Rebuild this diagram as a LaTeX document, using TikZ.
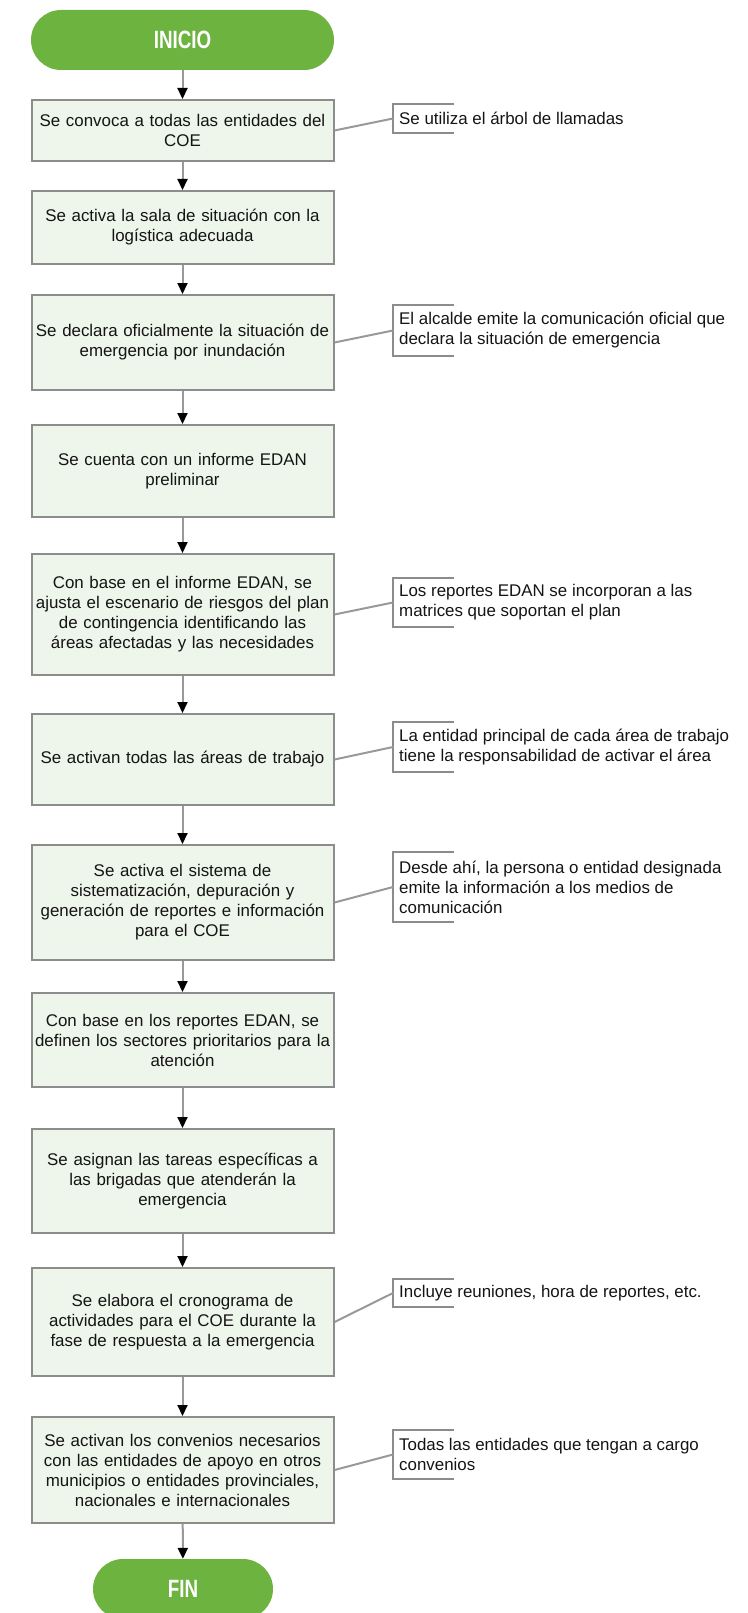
\documentclass[tikz,border=0pt]{standalone}
\usepackage{fontspec}
\setmainfont{Liberation Sans}
\newfontfamily\pillfont[FakeStretch=0.75]{Liberation Sans}
\usepackage{xcolor}
\usepackage{tikz}
\usetikzlibrary{arrows.meta}

\definecolor{pillgreen}{HTML}{6DB33F}
\definecolor{boxfill}{HTML}{EEF5EA}
\definecolor{boxline}{HTML}{8C8C8C}
\definecolor{linkgray}{HTML}{999999}

\begin{document}
\begin{tikzpicture}[
  x=1pt, y=-1pt,
  every node/.style={font=\fontsize{16.9}{20}\selectfont, text=black!92},
  term/.style={rectangle, rounded corners=30pt, fill=pillgreen, minimum height=60pt,
    text=white, font=\pillfont\bfseries\fontsize{25}{25}\selectfont},
  stepbox/.style={rectangle, draw=boxline, fill=boxfill, line width=2pt, text width=298pt,
    minimum width=302pt, align=center, inner sep=0pt},
  note/.style={anchor=west, align=left, inner xsep=6pt, inner ysep=0pt},
  flow/.style={draw=linkgray, line width=2pt, -{Triangle[width=10pt,length=11pt,color=black]}},
  link/.style={draw=linkgray, line width=2pt},
  brace/.style={draw=boxline, line width=2pt},
]
\useasboundingbox (0,0) rectangle (747,1613);
% terminals
\node[term, minimum width=303pt] (inicio) at (182.5,40) {INICIO};
\node[term, minimum width=180pt] (fin) at (183,1589) {FIN};
% steps
\node[stepbox, minimum height=61pt] (s1) at (182.5,130.5) {Se convoca a todas las entidades del\\COE};
\node[stepbox, minimum height=73pt] (s2) at (182.5,227.5) {Se activa la sala de situación con la\\logística adecuada};
\node[stepbox, minimum height=95pt] (s3) at (182.5,342.5) {Se declara oficialmente la situación de\\emergencia por inundación};
\node[stepbox, minimum height=92pt] (s4) at (182.5,471) {Se cuenta con un informe EDAN\\preliminar};
\node[stepbox, minimum height=121pt] (s5) at (182.5,614.5) {Con base en el informe EDAN, se\\ajusta el escenario de riesgos del plan\\de contingencia identificando las\\áreas afectadas y las necesidades};
\node[stepbox, minimum height=91pt] (s6) at (182.5,759.5) {Se activan todas las áreas de trabajo};
\node[stepbox, minimum height=115pt] (s7) at (182.5,902.5) {Se activa el sistema de\\sistematización, depuración y\\generación de reportes e información\\para el COE};
\node[stepbox, minimum height=94pt] (s8) at (182.5,1040) {Con base en los reportes EDAN, se\\definen los sectores prioritarios para la\\atención};
\node[stepbox, minimum height=104pt] (s9) at (182.5,1181) {Se asignan las tareas específicas a\\las brigadas que atenderán la\\emergencia};
\node[stepbox, minimum height=108pt] (s10) at (182.5,1322) {Se elabora el cronograma de\\actividades para el COE durante la\\fase de respuesta a la emergencia};
\node[stepbox, minimum height=106pt] (s11) at (182.5,1470) {Se activan los convenios necesarios\\con las entidades de apoyo en otros\\municipios o entidades provinciales,\\nacionales e internacionales};
% flow
\draw[flow] (inicio) -- (s1);
\draw[flow] (s1) -- (s2);
\draw[flow] (s2) -- (s3);
\draw[flow] (s3) -- (s4);
\draw[flow] (s4) -- (s5);
\draw[flow] (s5) -- (s6);
\draw[flow] (s6) -- (s7);
\draw[flow] (s7) -- (s8);
\draw[flow] (s8) -- (s9);
\draw[flow] (s9) -- (s10);
\draw[flow] (s10) -- (s11);
\draw[flow] (s11) -- (fin);
% notes
\node[note, minimum height=29pt] (n1) at (393,118.5) {Se utiliza el árbol de llamadas};
\node[note, minimum height=51pt] (n3) at (393,330.5) {El alcalde emite la comunicación oficial que\\declara la situación de emergencia};
\node[note, minimum height=49pt] (n5) at (393,602.5) {Los reportes EDAN se incorporan a las\\matrices que soportan el plan};
\node[note, minimum height=50pt] (n6) at (393,747) {La entidad principal de cada área de trabajo\\tiene la responsabilidad de activar el área};
\node[note, minimum height=70pt] (n7) at (393,887) {Desde ahí, la persona o entidad designada\\emite la información a los medios de\\comunicación};
\node[note, minimum height=28pt] (n10) at (393,1293) {Incluye reuniones, hora de reportes, etc.};
\node[note, minimum height=49pt] (n11) at (393,1454.5) {Todas las entidades que tengan a cargo\\convenios};
% brackets
\draw[brace] ([xshift=61pt]n1.north west) -- (n1.north west) -- (n1.south west) -- ([xshift=61pt]n1.south west);
\draw[brace] ([xshift=61pt]n3.north west) -- (n3.north west) -- (n3.south west) -- ([xshift=61pt]n3.south west);
\draw[brace] ([xshift=61pt]n5.north west) -- (n5.north west) -- (n5.south west) -- ([xshift=61pt]n5.south west);
\draw[brace] ([xshift=61pt]n6.north west) -- (n6.north west) -- (n6.south west) -- ([xshift=61pt]n6.south west);
\draw[brace] ([xshift=61pt]n7.north west) -- (n7.north west) -- (n7.south west) -- ([xshift=61pt]n7.south west);
\draw[brace] ([xshift=61pt]n10.north west) -- (n10.north west) -- (n10.south west) -- ([xshift=61pt]n10.south west);
\draw[brace] ([xshift=61pt]n11.north west) -- (n11.north west) -- (n11.south west) -- ([xshift=61pt]n11.south west);
% links
\draw[link] (s1.east) -- (n1.west);
\draw[link] (s3.east) -- (n3.west);
\draw[link] (s5.east) -- (n5.west);
\draw[link] (s6.east) -- (n6.west);
\draw[link] (s7.east) -- (n7.west);
\draw[link] (s10.east) -- (n10.west);
\draw[link] (s11.east) -- (n11.west);
\end{tikzpicture}
\end{document}
